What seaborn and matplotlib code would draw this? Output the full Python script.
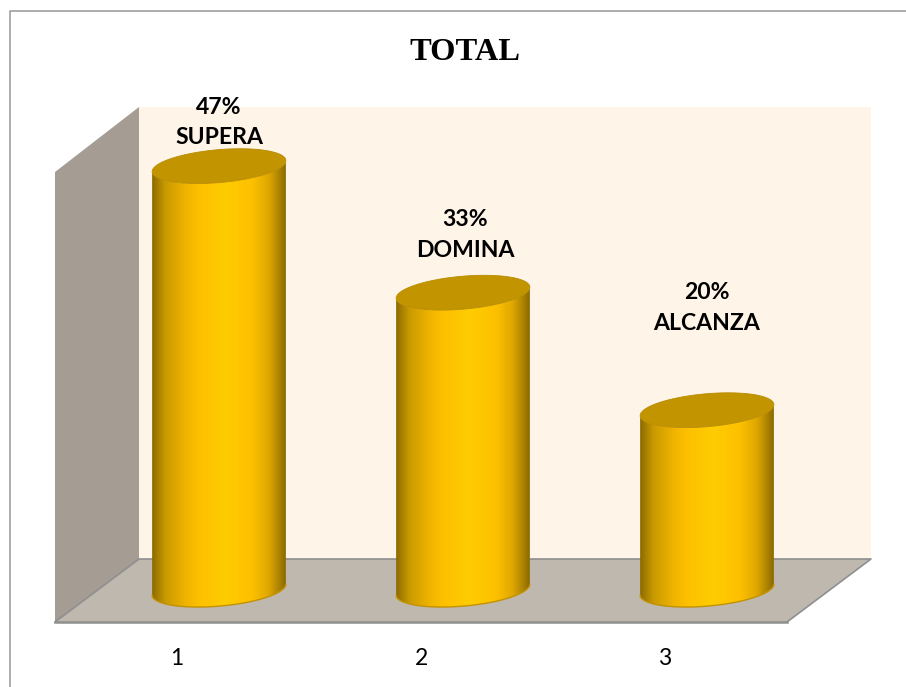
import numpy as np
import pandas as pd
import matplotlib
matplotlib.use("Agg")
import matplotlib.pyplot as plt
import seaborn as sns
from matplotlib.colors import LinearSegmentedColormap
from matplotlib.patches import PathPatch, Polygon
from matplotlib.path import Path

# data
categories = ["1", "2", "3"]
values = [47, 33, 20]
names = ["SUPERA", "DOMINA", "ALCANZA"]
title = "TOTAL"

W, H = 906, 687
GOLD = LinearSegmentedColormap.from_list("gold", [
    (0.00, "#8a6900"), (0.03, "#a07a00"), (0.10, "#c99a00"), (0.25, "#f0b400"), (0.35, "#fdc000"),
    (0.55, "#ffcc00"), (0.75, "#fdc000"), (0.87, "#e0a800"), (0.95, "#ad8300"), (1.00, "#8a6900"),
])


def px_axes(left, top, right, bottom):
    return fig.add_axes([left / W, 1 - bottom / H, (right - left) / W, (bottom - top) / H])


sns.set_theme(style="white")
fig = plt.figure(figsize=(W / 100, H / 100), dpi=100, facecolor="white")

# walls and floor, drawn in pixel space behind the chart
bg = px_axes(0, 0, W, H)
bg.set_xlim(0, W)
bg.set_ylim(H, 0)
bg.axis("off")
bg.add_patch(Polygon([(139, 107), (871, 107), (871, 559), (139, 559)], fc="#fef4e8", ec="none"))
bg.add_patch(Polygon([(55, 172), (139, 107), (139, 559), (55, 622)], fc="#a59c94", ec="none"))
bg.add_patch(Polygon([(55, 622), (139, 559), (871, 559), (787, 622)], fc="#bfb8af", ec="none"))
bg.plot([55, 139, 871, 787], [622, 559, 559, 622], color="#8f8f8f", lw=1.2)
bg.plot([10, 10, W], [H, 11, 11], color="#a0a0a0", lw=1.2)

# front plane: holds the category axis
front = px_axes(55, 172, 787, 622)
front.patch.set_alpha(0)
front.set_xlim(-0.5, 2.5)
front.set_ylim(0, 50)
front.set_yticks([])
front.set_xticks(range(len(categories)))
front.set_xticklabels(categories, fontfamily="Lato", fontsize=16.5, color="black")
front.tick_params(axis="x", length=0, pad=19)
sns.despine(ax=front, left=True)
front.spines["bottom"].set_color("#8f8f8f")
front.spines["bottom"].set_linewidth(1.8)

# middle plane: the cylinders stand here
ax = px_axes(97, 139, 829, 591)
ax.patch.set_alpha(0)
df = pd.DataFrame({"cat": categories, "val": values})
sns.barplot(data=df, x="cat", y="val", width=0.548, color="#ffc000", ax=ax)
ax.set_xlim(-0.5, 2.5)
ax.set_ylim(0, 50)
ax.set_xticks([])
ax.set_yticks([])
ax.set_xlabel("")
ax.set_ylabel("")
sns.despine(ax=ax, left=True, bottom=True)

# ellipse shape in data units (16 px minor radius, 5.5 px tilt)
RY = 16.5 / 9.04
TILT = 5.5 / 9.04
label_offsets = [(0, 13), (1.5, 23), (0, 55)]
t = np.linspace(0, 2 * np.pi, 121)

for bar, v, name, off in zip(list(ax.patches), values, names, label_offsets):
    x0, w = bar.get_x(), bar.get_width()
    cx, rx = x0 + w / 2, w / 2
    bar.set_visible(False)

    tb = np.linspace(np.pi, 2 * np.pi, 61)
    low_x = cx + rx * np.cos(tb)
    low_y = TILT * np.cos(tb) + RY * np.sin(tb) + 0.15
    up_x = cx + rx * np.cos(tb[::-1])
    up_y = v + TILT * np.cos(tb[::-1]) + RY * np.sin(tb[::-1])
    outline = np.column_stack([np.r_[low_x, up_x], np.r_[low_y, up_y]])
    body = PathPatch(Path(np.vstack([outline, outline[0]])), fc="none", ec="none",
                     transform=ax.transData)
    body.set_clip_on(False)
    ax.add_patch(body)
    img = ax.imshow(np.linspace(0, 1, 256)[None, :], cmap=GOLD, aspect="auto",
                    extent=[x0, x0 + w, -5, v + 5], zorder=3)
    img.set_clip_box(fig.bbox)
    img.set_clip_path(body)
    ax.plot(low_x, low_y, color="#c39200", lw=1, zorder=3.5, clip_on=False)

    top_x = cx + rx * np.cos(t)
    top_y = v + TILT * np.cos(t) + RY * np.sin(t)
    ax.fill(top_x, top_y, fc="#c29400", ec="#b98c00", lw=0.6, zorder=4, clip_on=False)

    ax.annotate(f"{v}%\n{name}", (cx, v), xytext=off, textcoords="offset points",
                ha="center", va="bottom", fontfamily="Lato", fontweight="bold", fontsize=16.6,
                color="black", linespacing=1.55, zorder=5, annotation_clip=False)

ax.set_xlim(-0.5, 2.5)
ax.set_ylim(0, 50)

fig.text(465 / W, 1 - 53 / H, title, ha="center", va="center", fontfamily="Liberation Serif",
         fontweight="bold", fontsize=23.4, color="black")

fig.savefig("out.png", dpi=100)
